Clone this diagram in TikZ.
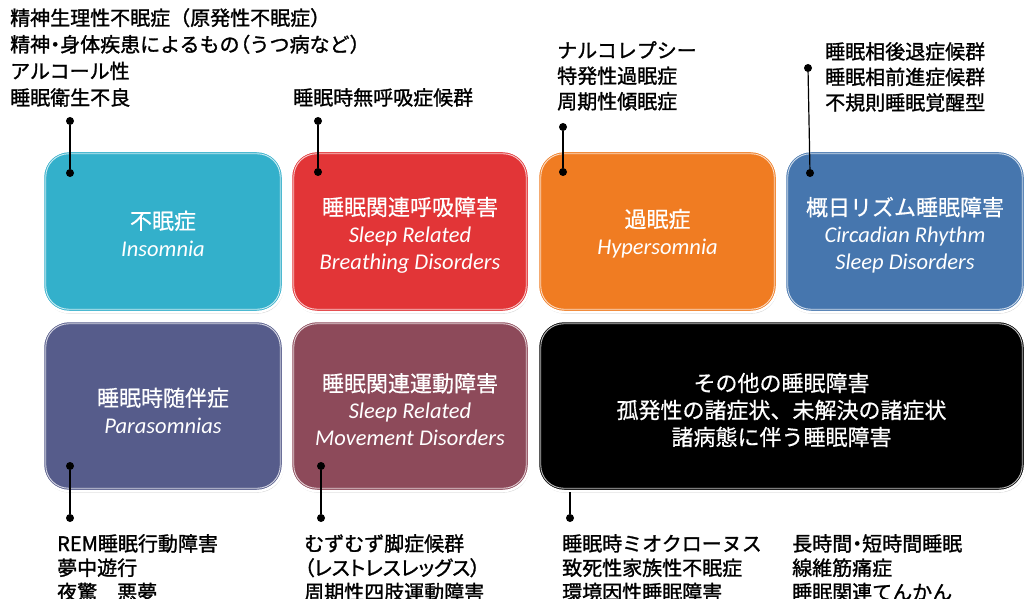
\documentclass[tikz,border=0pt]{standalone}
\usepackage{fontspec}
\setmainfont{Noto Sans CJK JP}
\newfontfamily\lblfont[FakeBold=1.3]{Noto Sans CJK JP}
\newfontfamily\boxfont[FakeBold=0.6]{Noto Sans CJK JP}
\newfontfamily\enfont{Carlito}
\usetikzlibrary{shadows}
\definecolor{cIns}{HTML}{33B0CB}
\definecolor{cBre}{HTML}{E23537}
\definecolor{cHyp}{HTML}{F07C22}
\definecolor{cCir}{HTML}{4676AE}
\definecolor{cPar}{HTML}{565C8B}
\definecolor{cMov}{HTML}{8D4A5A}
\definecolor{cOth}{HTML}{000000}
\newcommand\en[1]{{\enfont\itshape\fontsize{22.5}{27}\selectfont #1}}
\newcommand\prop[1]{{\addfontfeature{RawFeature=+palt}#1}}
\begin{document}
\begin{tikzpicture}[x=1pt,y=-1pt,
  box/.style={rounded corners=26pt, fill=#1, draw=white, line width=2.5pt,
    minimum height=161pt, inner sep=0pt,
    drop shadow={opacity=0.35, shadow xshift=0.6pt, shadow yshift=-1.6pt}},
  boxtext/.style={inner sep=0pt, text=white, align=center,
    font=\boxfont\fontsize{22}{27}\selectfont},
  rim/.style={rounded corners=23pt, draw=white!75!#1, line width=0.9pt},
  lbl/.style={inner sep=0pt, align=left, anchor=north west, text=black},
  dotn/.style={circle, fill=black, minimum size=8pt, inner sep=0pt},
  conn/.style={draw=black, line width=1.2pt}]
\useasboundingbox (0,0) rectangle (1028,599);
% boxes
\node[box=cIns, minimum width=240pt] (ins) at (163,231.5) {};
\node[box=cBre, minimum width=238pt] (bre) at (410,231.5) {};
\node[box=cHyp, minimum width=239pt] (hyp) at (657.5,231.5) {};
\node[box=cCir, minimum width=240pt] (cir) at (905,231.5) {};
\node[box=cPar, minimum width=240pt, minimum height=170pt] (par) at (163,406) {};
\node[box=cMov, minimum width=238pt, minimum height=170pt] (mov) at (410,406) {};
\node[box=cOth, minimum width=487pt, minimum height=170pt] (oth) at (781.5,406) {};
\foreach \n/\c in {ins/cIns,bre/cBre,hyp/cHyp,cir/cCir,par/cPar,mov/cMov,oth/cOth}{
  \draw[rim=\c] ([shift={(4,4)}]\n.north west) rectangle ([shift={(-4,-4)}]\n.south east);
}
% box texts
\node[boxtext] (insT) at ([yshift=-2pt]ins.center) {不眠症\\\en{Insomnia}};
\node[boxtext] (breT) at ([yshift=-3.5pt]bre.center) {睡眠関連呼吸障害\\\en{Sleep Related}\\\en{Breathing Disorders}};
\node[boxtext] (hypT) at ([yshift=-2pt]hyp.center) {過眠症\\\en{Hypersomnia}};
\node[boxtext] (cirT) at ([yshift=-3.5pt]cir.center) {概日リズム睡眠障害\\\en{Circadian Rhythm}\\\en{Sleep Disorders}};
\node[boxtext] (parT) at ([yshift=-4.5pt]par.center) {睡眠時随伴症\\\en{Parasomnias}};
\node[boxtext] (movT) at ([yshift=-3.5pt]mov.center) {睡眠関連運動障害\\\en{Sleep Related}\\\en{Movement Disorders}};
\node[boxtext] (othT) at ([yshift=-4pt]oth.center) {その他の睡眠障害\\孤発性の諸症状、未解決の諸症状\\諸病態に伴う睡眠障害};
% labels
\node[lbl, font=\lblfont\fontsize{20}{26.6}\selectfont] (tInsL) at (10,8) {精神生理性不眠症（原発性不眠症）\\精神\prop{・}身体疾患によるもの\prop{（}うつ病など）\\アルコール性\\睡眠衛生不良};
\node[lbl, font=\lblfont\fontsize{20}{25.5}\selectfont] (tBreL) at (293,88) {睡眠時無呼吸症候群};
\node[lbl, font=\lblfont\fontsize{20}{25.5}\selectfont] (tHypL) at (557,41) {ナルコレプシー\\特発性過眠症\\周期性傾眠症};
\node[lbl, font=\lblfont\fontsize{20}{25.5}\selectfont] (tCirL) at (825,42) {睡眠相後退症候群\\睡眠相前進症候群\\不規則睡眠覚醒型};
\node[lbl, font=\lblfont\fontsize{20}{24.3}\selectfont] (tParL) at (57,534) {REM睡眠行動障害\\夢中遊行\\夜驚　悪夢};
\node[lbl, font=\lblfont\fontsize{20}{24.3}\selectfont] (tMovL) at (304,534) {むずむず脚症候群\\\prop{（レストレスレッグス）}\\周期性四肢運動障害};
\node[lbl, font=\lblfont\fontsize{20}{24.3}\selectfont] (tOthL) at (562,534) {睡眠時ミオクローヌス\\致死性家族性不眠症\\環境因性睡眠障害};
\node[lbl, font=\lblfont\fontsize{20}{24.3}\selectfont] (tOthR) at (792,534) {長時間\prop{・}短時間睡眠\\線維筋痛症\\睡眠関連てんかん};
% dots and connectors
\node[dotn] (a1) at (70,121) {};
\node[dotn] (a2) at (70,173) {};
\node[dotn] (b1) at (318,121) {};
\node[dotn] (b2) at (318,172) {};
\node[dotn] (c1) at (563,127) {};
\node[dotn] (c2) at (563,172) {};
\node[dotn] (d1) at (808,68) {};
\node[dotn] (d2) at (810,173) {};
\node[dotn] (e1) at (70,466) {};
\node[dotn] (e2) at (70,518) {};
\node[dotn] (f1) at (321,466) {};
\node[dotn] (f2) at (321,518) {};
\node[dotn] (g2) at (570,518) {};
\draw[conn] (a1) -- (a2);
\draw[conn] (b1) -- (b2);
\draw[conn] (c1) -- (c2);
\draw[conn] (d1) -- (d2);
\draw[conn] (e1) -- (e2);
\draw[conn] (f1) -- (f2);
\draw[conn] (g2) -- (g2 |- oth.south);
\end{tikzpicture}
\end{document}
